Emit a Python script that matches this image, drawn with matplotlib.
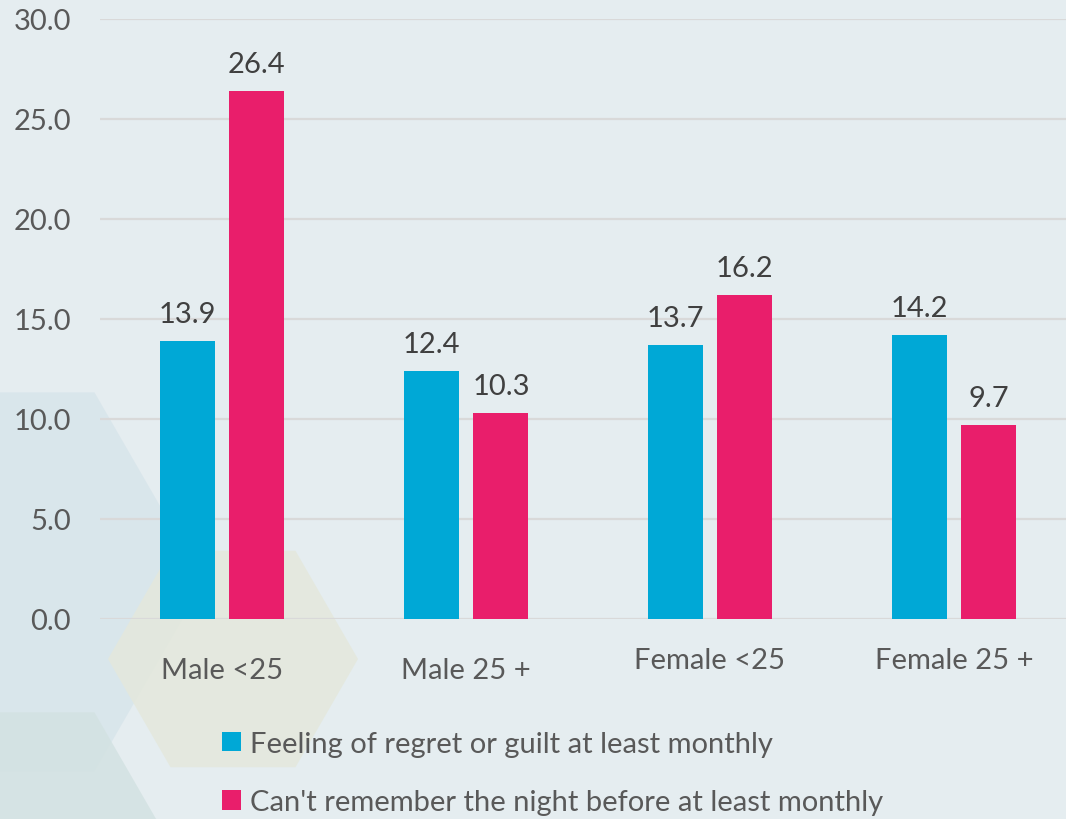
import numpy as np
import matplotlib.pyplot as plt
from matplotlib.patches import RegularPolygon
from matplotlib.transforms import IdentityTransform

categories = ["Male <25", "Male 25 +", "Female <25", "Female 25 +"]
regret = [13.9, 12.4, 13.7, 14.2]
cant_remember = [26.4, 10.3, 16.2, 9.7]
series_names = ["Feeling of regret or guilt at least monthly",
                "Can't remember the night before at least monthly"]
yticks = [0, 5, 10, 15, 20, 25, 30]

plt.rcParams['font.family'] = ['Lato', 'DejaVu Sans']

bg = "#e5edf0"
blue = "#00a8d6"
pink = "#e91e6b"
fs = 21

fig = plt.figure(figsize=(10.66, 8.2), dpi=100, facecolor=bg)

# decorative hexagons in the background (pixel coords, origin top-left)
W, H = 1066, 820
for cx, cy, r, col in [(-15, 583, 219, "#d8e5eb"),
                       (-15, 903, 219, "#d3e2e2"),
                       (233, 660, 125, "#e4e8dc")]:
    hexa = RegularPolygon((cx, H - cy), numVertices=6, radius=r,
                          orientation=np.pi / 6, transform=IdentityTransform(),
                          facecolor=col, edgecolor="none", alpha=0.85, zorder=-5)
    fig.patches.append(hexa)

ax = fig.add_axes([100 / W, 200 / H, 976 / W, 600 / H])
ax.set_facecolor("none")

x = np.arange(len(categories))
w = 0.225
b1 = ax.bar(x - 0.143, regret, w, color=blue, label=series_names[0], zorder=3)
b2 = ax.bar(x + 0.143, cant_remember, w, color=pink, label=series_names[1], zorder=3)

for bars, vals in [(b1, regret), (b2, cant_remember)]:
    for bar, v in zip(bars, vals):
        ax.annotate(f"{v:.1f}", (bar.get_x() + bar.get_width() / 2, v),
                    xytext=(0, 10), textcoords="offset points",
                    ha="center", va="bottom", fontsize=fs, color="#404040")

ax.set_xlim(-0.5, 3.5)
ax.set_ylim(0, 30)
ax.set_yticks(yticks)
ax.set_yticklabels([f"{t:.1f}" for t in yticks], fontsize=fs, color="#595959")
ax.tick_params(axis="y", length=0, pad=21)
ax.set_xticks([])
ax.grid(axis="y", color="#d9d9d9", linewidth=1.6, zorder=1)
for s in ax.spines.values():
    s.set_visible(False)

# category labels (the first two sit a bit lower in the original)
label_y = [-0.085, -0.085, -0.068, -0.068]
for i, c in enumerate(categories):
    ax.text(i, label_y[i], c, transform=ax.get_xaxis_transform(),
            ha="center", va="center", fontsize=fs, color="#595959")

fig.legend(handles=[b1, b2], loc="center left", bbox_to_anchor=(222 / W, 1 - 774 / H),
           frameon=False, fontsize=fs, labelcolor="#595959",
           borderpad=0, borderaxespad=0,
           handlelength=0.65, handleheight=0.65, handletextpad=0.3,
           labelspacing=1.1)

plt.savefig("out.png", dpi=100, facecolor=bg)
